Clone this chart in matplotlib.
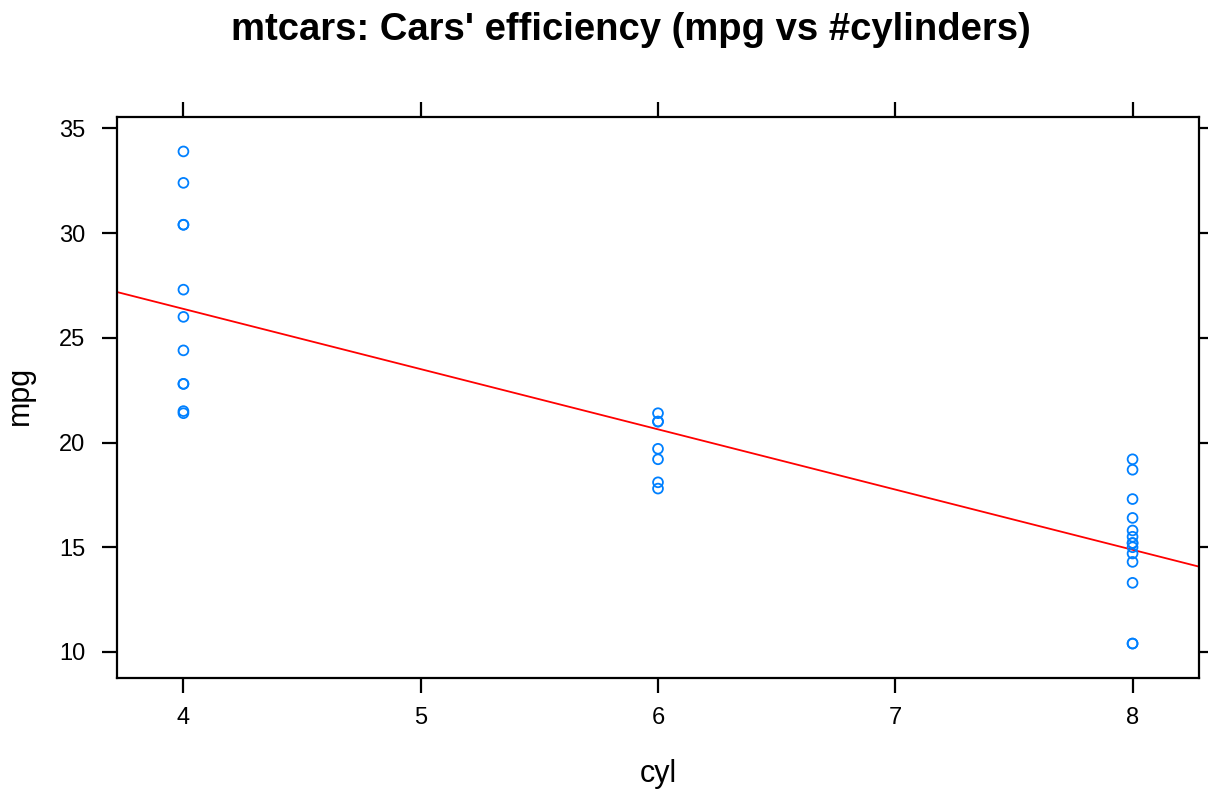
import numpy as np
import matplotlib.pyplot as plt

plt.rcParams['font.family'] = ['Liberation Sans', 'DejaVu Sans']

# mtcars mpg grouped by number of cylinders
mpg_4cyl = [22.8, 24.4, 22.8, 32.4, 30.4, 33.9, 21.5, 27.3, 26.0, 30.4, 21.4]
mpg_6cyl = [21.0, 21.0, 21.4, 18.1, 19.2, 17.8, 19.7]
mpg_8cyl = [18.7, 14.3, 16.4, 17.3, 15.2, 10.4, 10.4, 14.7, 15.5, 15.2,
            13.3, 19.2, 15.8, 15.0]

cyl = np.array([4] * len(mpg_4cyl) + [6] * len(mpg_6cyl) + [8] * len(mpg_8cyl), dtype=float)
mpg = np.array(mpg_4cyl + mpg_6cyl + mpg_8cyl)

x_ticks = [4, 5, 6, 7, 8]
y_ticks = [10, 15, 20, 25, 30, 35]

W, H = 1208, 792
fig = plt.figure(figsize=(W / 100, H / 100), dpi=100)
ax = fig.add_axes([117 / W, 1 - 678 / H, (1199 - 117) / W, (678 - 117) / H])

# lattice-style padding of 7% of data range
xr = cyl.max() - cyl.min()
yr = mpg.max() - mpg.min()
xlim = (cyl.min() - 0.07 * xr, cyl.max() + 0.07 * xr)
ylim = (mpg.min() - 0.07 * yr, mpg.max() + 0.07 * yr)

ax.scatter(cyl, mpg, s=50, facecolors='none', edgecolors='#0080ff', linewidths=1.3, zorder=3)

slope, intercept = np.polyfit(cyl, mpg, 1)
xs = np.array(xlim)
ax.plot(xs, intercept + slope * xs, color='red', lw=1.3, zorder=2)

ax.set_xlim(*xlim)
ax.set_ylim(*ylim)
ax.set_xticks(x_ticks)
ax.set_yticks(y_ticks)
ax.tick_params(direction='out', length=11, width=1.6, labelsize=17,
               top=True, right=True, labeltop=False, labelright=False)
ax.tick_params(axis='x', pad=10)
ax.tick_params(axis='y', pad=12)
for s in ax.spines.values():
    s.set_linewidth(1.6)

fig.text(658 / W, 1 - 774 / H, 'cyl', fontsize=22, ha='center', va='center')
fig.text(20 / W, 1 - 395 / H, 'mpg', fontsize=22, ha='center', va='center', rotation=90)
fig.text(631 / W, 1 - 30 / H, "mtcars: Cars' efficiency (mpg vs #cylinders)", fontsize=27.5,
         fontweight='bold', ha='center', va='center')

fig.savefig('out.png', dpi=100)
